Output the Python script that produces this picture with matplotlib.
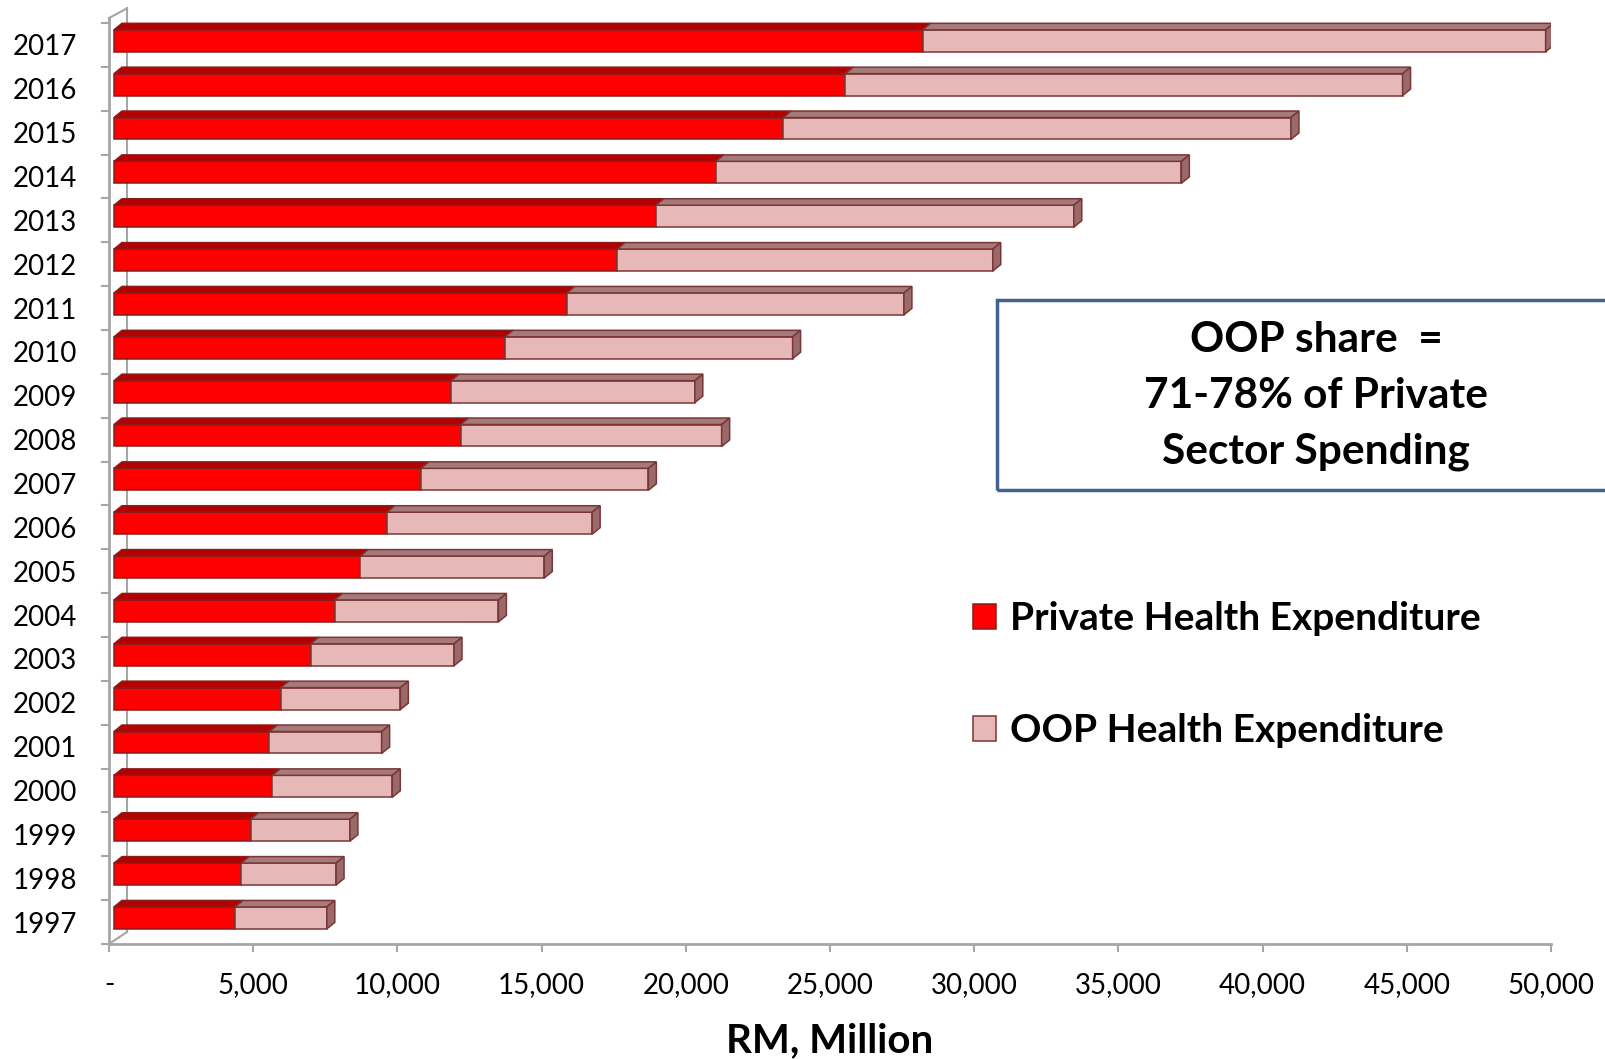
import matplotlib; matplotlib.use("Agg")
import matplotlib.pyplot as plt
from matplotlib.patches import Polygon, Rectangle
plt.rcParams.update({"font.family": ["Lato", "DejaVu Sans"], "font.size": 20})

# values (RM million)
years = list(range(1997, 2018))
private = [4200, 4410, 4740, 5490, 5390, 5780, 6820, 7650, 8540, 9460, 10640,
           12020, 11690, 13560, 15700, 17450, 18790, 20870, 23210, 25360, 28040]
oop = [3180, 3290, 3440, 4160, 3890, 4150, 4970, 5680, 6380, 7120, 7890,
       9050, 8450, 9970, 11690, 13020, 14490, 16140, 17600, 19320, 21600]
xticks = list(range(0, 50001, 5000))
xticklabels = ["-"] + [f"{t:,}" for t in xticks[1:]]
labels = ["Private Health Expenditure", "OOP Health Expenditure"]
note = "OOP share  =\n71-78% of Private\nSector Spending"

# pseudo-3D look
W, H = 1606, 1059
X0 = 173          # bar front face starts a bit right of the axis
DX, DY = 277, 0.148  # depth of the bar (x in data units, y in category units)
YOFF, BH = 0.095, 0.50
GREY = "#a6a6a6"
EDGE_R, EDGE_P = "#8c1c1c", "#7a3636"
C_RED, C_RED_TOP = "#ff0000", "#b30000"
C_PINK, C_PINK_TOP, C_PINK_SIDE = "#e6b9b8", "#a67a7a", "#9a6969"

fig = plt.figure(figsize=(W/100, H/100), dpi=100)
ytop = 20.5 + 5/43.857
ax = fig.add_axes([109/W, (H-944)/H, (1551-109)/W, (944-18)/H])
ax.set_xlim(0, 50000); ax.set_ylim(-0.5, ytop)

def top_face(x0, w, yc, fc, ec):
    t = yc + BH/2
    ax.add_patch(Polygon([(x0, t), (x0+w, t), (x0+w+DX, t+DY), (x0+DX, t+DY)],
                         closed=True, fc=fc, ec=ec, lw=1.1, zorder=3))

ys = [i + YOFF for i in range(len(years))]
b1 = ax.barh(ys, private, left=X0, height=BH, color=C_RED, edgecolor=EDGE_R, lw=1.1, zorder=3, label=labels[0])
lefts = [X0 + p for p in private]
b2 = ax.barh(ys, oop, left=lefts, height=BH, color=C_PINK, edgecolor=EDGE_P, lw=1.1, zorder=3, label=labels[1])
for y, p, o, l in zip(ys, private, oop, lefts):
    top_face(X0, p, y, C_RED_TOP, EDGE_R)
    top_face(l, o, y, C_PINK_TOP, EDGE_P)
    e = l + o; b = y - BH/2; t = y + BH/2
    ax.add_patch(Polygon([(e, b), (e, t), (e+DX, t+DY), (e+DX, b+DY)],
                         closed=True, fc=C_PINK_SIDE, ec=EDGE_P, lw=1.1, zorder=3))

# back wall / floor lines
wx, wy = 18*50000/1442, 12/43.857
ax.plot([0, wx], [-0.5, -0.5+wy], color=GREY, lw=1.5, clip_on=False, zorder=1)
ax.plot([wx, wx], [-0.5+wy, ytop+wy*0.8], color=GREY, lw=1.5, clip_on=False, zorder=1)
ax.plot([0, wx], [ytop, ytop+wy*0.8], color=GREY, lw=1.5, clip_on=False, zorder=1)

for s in ["top", "right"]: ax.spines[s].set_visible(False)
for s in ["left", "bottom"]:
    ax.spines[s].set_color(GREY); ax.spines[s].set_linewidth(2)
ax.set_xticks(xticks); ax.set_xticklabels(xticklabels)
ax.tick_params(axis="x", length=6, width=1.5, color=GREY, pad=14, labelsize=20)
ax.set_yticks(range(len(years))); ax.set_yticklabels([str(y) for y in years])
ax.set_yticks([i - 0.5 for i in range(len(years)+1)], minor=True)
ax.tick_params(axis="y", which="major", length=0, pad=23, labelsize=20)
ax.tick_params(axis="y", which="minor", length=6, width=1.5, color=GREY)
ax.set_xlabel("RM, Million", fontsize=29, fontweight="bold", labelpad=17.5)

# note box
fig.patches.append(Rectangle((997.5/W, (H-490)/H), 700/W, 190/H, transform=fig.transFigure,
                             fill=False, ec="#41618f", lw=2.5, zorder=5))
fig.text(1316/W, 1-396/H, note, ha="center", va="center", fontsize=30.5,
         fontweight="bold", linespacing=1.58)

leg = ax.legend(handles=[b1, b2], loc="upper left", bbox_to_anchor=(973/W, 1-601/H),
                bbox_transform=fig.transFigure, frameon=False, fontsize=28,
                handlelength=0.6, handleheight=0.6, handletextpad=0.35,
                labelspacing=1.99, borderpad=0, borderaxespad=0)
for t in leg.get_texts(): t.set_fontweight("bold")

fig.savefig("out.png", dpi=100)
